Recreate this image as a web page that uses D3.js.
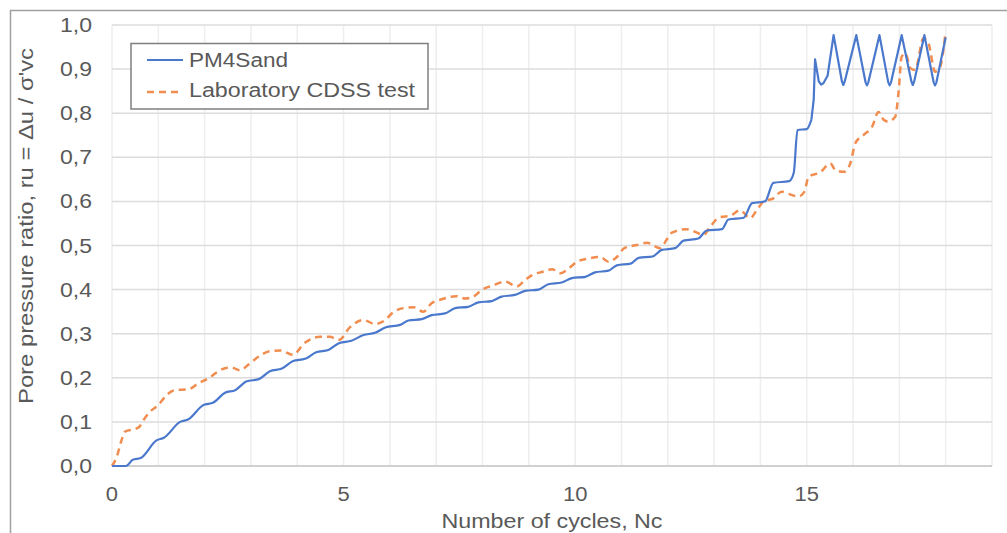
<!DOCTYPE html>
<html>
<head>
<meta charset="utf-8">
<script src="https://cdn.jsdelivr.net/npm/d3@7"></script>
<style>
  html, body { margin: 0; padding: 0; background: #fff; }
  svg { display: block; }
  text { font-family: "Liberation Sans", Arial, sans-serif; fill: #595959; }
</style>
</head>
<body>
<svg id="chart" width="1007" height="533"></svg>
<script>
// Pore pressure ratio vs number of cycles: PM4Sand model vs laboratory CDSS test
const seriesNames = ["PM4Sand", "Laboratory CDSS test"];

const pm4sandCycles = [0, 0.3, 0.45, 0.62, 0.96, 1.12, 1.47, 1.65, 1.97, 2.19, 2.44, 2.66, 2.91, 3.17,
  3.41, 3.67, 3.91, 4.17, 4.41, 4.67, 4.91, 5.17, 5.43, 5.68, 5.9, 6.22, 6.4, 6.69, 6.9, 7.19, 7.41,
  7.69, 7.91, 8.2, 8.41, 8.7, 8.92, 9.21, 9.42, 9.71, 9.93, 10.22, 10.43, 10.72, 10.9, 11.2, 11.37,
  11.67, 11.87, 12.16, 12.34, 12.66, 12.84, 13.17, 13.31, 13.64, 13.82, 14.1, 14.28, 14.62, 14.72,
  14.8, 15.0, 15.1, 15.15, 15.18, 15.26, 15.31, 15.36, 15.45, 15.58, 15.76, 15.79, 15.82, 16.07,
  16.27, 16.3, 16.33, 16.57, 16.76, 16.79, 16.82, 17.05, 17.26, 17.29, 17.32, 17.54, 17.74, 17.77,
  17.8, 18.0];
const pm4sandRu = [0, 0.0, 0.014, 0.018, 0.058, 0.064, 0.100, 0.106, 0.138, 0.144, 0.166, 0.172, 0.192, 0.197,
  0.215, 0.221, 0.238, 0.243, 0.258, 0.263, 0.279, 0.284, 0.297, 0.302, 0.314, 0.320, 0.330, 0.333, 0.342, 0.346, 0.358,
  0.361, 0.371, 0.374, 0.384, 0.388, 0.397, 0.400, 0.412, 0.416, 0.426, 0.429, 0.439, 0.443, 0.455, 0.459, 0.472,
  0.475, 0.490, 0.494, 0.511, 0.516, 0.534, 0.537, 0.559, 0.563, 0.596, 0.600, 0.642, 0.646, 0.665,
  0.762, 0.764, 0.785, 0.830, 0.922, 0.872, 0.865, 0.868, 0.885, 0.977, 0.872, 0.864, 0.872, 0.977,
  0.870, 0.863, 0.870, 0.977, 0.870, 0.863, 0.870, 0.977, 0.872, 0.864, 0.872, 0.977, 0.870, 0.863,
  0.870, 0.972];

const labCycles = [0, 0.1, 0.21, 0.28, 0.53, 0.6, 0.68, 0.82, 1.0, 1.18, 1.36, 1.65, 1.86, 2.1, 2.3,
  2.5, 2.62, 2.76, 2.95, 3.15, 3.4, 3.65, 3.9, 4.17, 4.5, 4.7, 4.9, 5.14, 5.43, 5.68, 5.9, 6.04, 6.29,
  6.51, 6.72, 6.9, 7.12, 7.44, 7.62, 7.8, 7.98, 8.24, 8.49, 8.74, 8.92, 9.07, 9.32, 9.5, 9.68, 9.86,
  10.04, 10.32, 10.54, 10.72, 10.9, 11.06, 11.33, 11.55, 11.84, 11.98, 12.09, 12.41, 12.59, 12.77,
  12.92, 13.1, 13.38, 13.56, 13.78, 13.92, 14.07, 14.28, 14.46, 14.61, 14.82, 14.95, 15.04, 15.29,
  15.51, 15.62, 15.8, 15.94, 16.05, 16.23, 16.41, 16.55, 16.66, 16.75, 16.91, 16.98, 17.05, 17.13,
  17.24, 17.34, 17.52, 17.63, 17.77, 17.88, 17.99];
const labRu = [0, 0.02, 0.06, 0.078, 0.085, 0.09, 0.104, 0.123, 0.138, 0.161, 0.172, 0.174, 0.187, 0.2, 0.215,
  0.223, 0.222, 0.217, 0.23, 0.247, 0.26, 0.262, 0.252, 0.28, 0.293, 0.293, 0.286, 0.315, 0.331, 0.322, 0.331, 0.346, 0.358,
  0.36, 0.35, 0.369, 0.378, 0.385, 0.38, 0.384, 0.399, 0.41, 0.418, 0.407, 0.422, 0.433, 0.441, 0.446, 0.437, 0.448,
  0.463, 0.471, 0.474, 0.463, 0.474, 0.494, 0.501, 0.506, 0.494, 0.514, 0.529, 0.537, 0.531, 0.524,
  0.543, 0.563, 0.569, 0.58, 0.562, 0.58, 0.6, 0.607, 0.622, 0.617, 0.611, 0.622, 0.656, 0.666,
  0.686, 0.671, 0.667, 0.686, 0.732, 0.751, 0.769, 0.803, 0.785, 0.781, 0.792, 0.845, 0.928, 0.936,
  0.902, 0.898, 0.97, 0.958, 0.894, 0.905, 0.977];

const xTickValues = [0, 5, 10, 15];
const xTickLabels = ["0", "5", "10", "15"];
const yTickValues = [0, 0.1, 0.2, 0.3, 0.4, 0.5, 0.6, 0.7, 0.8, 0.9, 1.0];
const yTickLabels = ["0,0", "0,1", "0,2", "0,3", "0,4", "0,5", "0,6", "0,7", "0,8", "0,9", "1,0"];
const xTitle = "Number of cycles, Nc";
const yTitle = "Pore pressure ratio, ru = \u0394u / \u03c3'vc";

const colors = { pm4sand: "#4a78cc", lab: "#f08d4f" };

const svg = d3.select("#chart");
const plot = { left: 112, right: 992, top: 25, bottom: 466 };

const x = d3.scaleLinear().domain([0, 19]).range([plot.left, plot.right]);
const y = d3.scaleLinear().domain([0, 1]).range([plot.bottom, plot.top]);

// stretch text horizontally by a constant factor
function widen(sel, factor) {
  sel.each(function () {
    const w = this.getComputedTextLength();
    d3.select(this).attr("textLength", w * factor).attr("lengthAdjust", "spacingAndGlyphs");
  });
}

// chart frame
svg.append("rect").attr("x", 10.5).attr("y", 10.5).attr("width", 1010).attr("height", 540)
  .attr("fill", "#fff").attr("stroke", "#a0a0a0").attr("stroke-width", 1.5);

// vertical gridlines every cycle
svg.append("g").selectAll("line").data(d3.range(0, 20)).join("line")
  .attr("x1", d => x(d)).attr("x2", d => x(d))
  .attr("y1", plot.top).attr("y2", plot.bottom)
  .attr("stroke", "#eeeeee").attr("stroke-width", 1.5);

// horizontal gridlines
svg.append("g").selectAll("line").data(yTickValues).join("line")
  .attr("x1", plot.left).attr("x2", plot.right)
  .attr("y1", d => y(d)).attr("y2", d => y(d))
  .attr("stroke", d => d === 0 ? "#d0d0d0" : "#dcdcdc")
  .attr("stroke-width", d => d === 0 ? 2 : 1.5);

// y tick labels
const yl = svg.append("g").selectAll("text").data(yTickValues).join("text")
  .attr("x", 92).attr("y", d => y(d) + 7)
  .attr("text-anchor", "end").attr("font-size", 20)
  .text((d, i) => yTickLabels[i]);
widen(yl, 1.15);

// x tick labels
const xl = svg.append("g").selectAll("text").data(xTickValues).join("text")
  .attr("x", d => x(d)).attr("y", 501)
  .attr("text-anchor", "middle").attr("font-size", 20)
  .text((d, i) => xTickLabels[i]);
widen(xl, 1.1);

// axis titles
svg.append("text").attr("x", (plot.left + plot.right) / 2).attr("y", 528)
  .attr("text-anchor", "middle").attr("font-size", 20)
  .attr("textLength", 221).attr("lengthAdjust", "spacingAndGlyphs")
  .text(xTitle);

svg.append("text").attr("transform", "translate(33,226) rotate(-90)")
  .attr("text-anchor", "middle").attr("font-size", 21)
  .attr("textLength", 356).attr("lengthAdjust", "spacingAndGlyphs")
  .text(yTitle);

// series: smooth steps during build-up, sharp peaks once cyclic mobility sets in
const smooth = d3.line().x(d => x(d[0])).y(d => y(d[1])).curve(d3.curveMonotoneX);
const sharp = d3.line().x(d => x(d[0])).y(d => y(d[1])).curve(d3.curveLinear);
const pm4sand = pm4sandCycles.map((c, i) => [c, pm4sandRu[i]]);
const lab = labCycles.map((c, i) => [c, labRu[i]]);
const split = 15.1;

svg.append("path").datum(lab).attr("d", smooth)
  .attr("fill", "none").attr("stroke", colors.lab).attr("stroke-width", 2.5)
  .attr("stroke-dasharray", "7,5").attr("stroke-linejoin", "round");

svg.append("path").datum(pm4sand.filter(d => d[0] <= split)).attr("d", smooth)
  .attr("fill", "none").attr("stroke", colors.pm4sand).attr("stroke-width", 2.2)
  .attr("stroke-linejoin", "round");
svg.append("path").datum(pm4sand.filter(d => d[0] >= split)).attr("d", sharp)
  .attr("fill", "none").attr("stroke", colors.pm4sand).attr("stroke-width", 2.2)
  .attr("stroke-linejoin", "round");

// legend
const lg = svg.append("g");
lg.append("rect").attr("x", 131).attr("y", 43.5).attr("width", 297).attr("height", 65.5)
  .attr("fill", "#fff").attr("stroke", "#7f7f7f").attr("stroke-width", 1.5);
lg.append("line").attr("x1", 147).attr("x2", 183).attr("y1", 60).attr("y2", 60)
  .attr("stroke", colors.pm4sand).attr("stroke-width", 2.2);
lg.append("line").attr("x1", 147).attr("x2", 183).attr("y1", 92).attr("y2", 92)
  .attr("stroke", colors.lab).attr("stroke-width", 2.5).attr("stroke-dasharray", "7,5");
lg.append("text").attr("x", 189).attr("y", 67.3).attr("font-size", 20)
  .attr("textLength", 99).attr("lengthAdjust", "spacingAndGlyphs").text(seriesNames[0]);
lg.append("text").attr("x", 189).attr("y", 96.7).attr("font-size", 20)
  .attr("textLength", 226).attr("lengthAdjust", "spacingAndGlyphs").text(seriesNames[1]);
</script>
</body>
</html>
